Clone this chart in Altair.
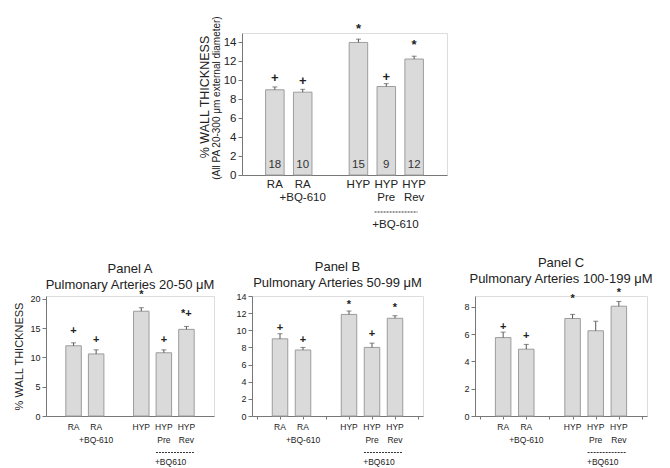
import altair as alt
import pandas as pd

FONT = "Liberation Sans"
TXT = "#222222"
AX = "#777777"
FILL = "#dadada"
EDGE = "#9c9c9c"

# ---------------- data ----------------
groups = ["RA", "RA\n+BQ-610", "HYP", "HYP\nPre", "HYP\nRev"]
slots = [0, 1, 3, 4, 5]

# top panel (all PA 20-300 um)
top_mean = [9.0, 8.75, 14.0, 9.35, 12.25]
top_sem = [0.3, 0.3, 0.35, 0.3, 0.3]
top_n = ["18", "10", "15", "9", "12"]
top_sig = ["+", "+", "*", "+", "*"]
top_sig_y = [10.25, 9.95, 15.45, 10.35, 13.7]

# Panel A (20-50 uM)
a_mean = [12.0, 10.6, 17.9, 10.8, 14.8]
a_sem = [0.5, 0.7, 0.6, 0.5, 0.5]
a_sig = ["+", "+", "*", "+", "*+"]
a_sig_y = [14.5, 13.0, 20.7, 13.0, 17.5]

# Panel B (50-99 uM)
b_mean = [9.0, 7.7, 11.85, 8.0, 11.4]
b_sem = [0.6, 0.3, 0.4, 0.5, 0.3]
b_sig = ["+", "+", "*", "+", "*"]
b_sig_y = [10.3, 8.9, 12.9, 9.6, 12.6]

# Panel C (100-199 uM)
c_mean = [5.75, 4.9, 7.15, 6.25, 8.05]
c_sem = [0.4, 0.35, 0.3, 0.7, 0.35]
c_sig = ["+", "+", "*", "", "*"]
c_sig_y = [6.5, 5.9, 8.6, 7.0, 9.05]

top_bracket = [3.58, 5.12, 4.33]   # start, end, label position (slot units)
bot_bracket = [3.65, 5.33, 4.3]


def panel(mean, sem, sig, sig_y, ymax, yvals, w, h, bw, fs_tick, fs_lab, lab_dy,
          lab_lh, fs_sig, br, br_label, br_dy, lab_dy2, xticks=True, ytitle=None,
          title=None, n=None, toff=-3):
    df = pd.DataFrame({
        "slot": slots, "group": groups, "mean": mean,
        "top": [m + s for m, s in zip(mean, sem)],
        "sig": sig, "sig_y": sig_y,
    })
    if n is not None:
        df["n"] = n
    xs = alt.Scale(domain=[-1, 6], nice=False, zero=False)
    ys = alt.Scale(domain=[0, ymax], nice=False)
    yaxis = alt.Axis(values=yvals, grid=False, domainColor=AX, tickColor=AX, tickSize=4,
                     labelFont=FONT, labelFontSize=fs_tick, labelColor=TXT, labelPadding=2,
                     labelOverlap=False, labelBound=False, labelFlush=False,
                     title=ytitle if ytitle else "", titleFont=FONT, titleFontSize=11,
                     titleFontWeight="normal", titleColor=TXT, titlePadding=5)
    xaxis = alt.Axis(values=list(range(-1, 7)), labels=False, ticks=xticks, tickSize=3,
                     tickColor=AX, domainColor=AX, grid=False, title="")

    def X(f):
        return alt.X(f, type="quantitative", scale=xs, axis=xaxis)

    def Y(f):
        return alt.Y(f, type="quantitative", scale=ys, axis=yaxis)

    base = alt.Chart(df)
    bars = base.mark_bar(size=bw, fill=FILL, stroke=EDGE, strokeWidth=1).encode(
        x=X("slot"), y=Y("mean"))
    err = base.mark_rule(color="#555555", strokeWidth=1).encode(
        x=X("slot"), y=Y("mean"), y2="top:Q")
    cap = base.mark_tick(orient="horizontal", size=5, thickness=1, color="#555555").encode(
        x=X("slot"), y=Y("top"))
    sigs = base.mark_text(font=FONT, fontSize=fs_sig, fontWeight="bold", color=TXT,
                          baseline="middle").encode(x=X("slot"), y=Y("sig_y"), text="sig:N")
    labs = base.mark_text(font=FONT, fontSize=fs_lab, color=TXT, baseline="top",
                          lineBreak="\n", lineHeight=lab_lh).encode(
        x=X("slot"), y=alt.value(h + lab_dy), text="group:N")
    bdf = pd.DataFrame({"b0": [br[0]], "b1": [br[1]], "bl": [br[2]], "t": [br_label]})
    brule = alt.Chart(bdf).mark_rule(color="#333333", strokeWidth=1, strokeDash=[2, 1]).encode(
        x=X("b0"), x2="b1:Q", y=alt.value(h + br_dy))
    btxt = alt.Chart(bdf).mark_text(font=FONT, fontSize=fs_lab, color=TXT, baseline="middle").encode(
        x=X("bl"), y=alt.value(h + lab_dy2), text="t:N")
    layers = [bars, err, cap, sigs, labs, brule, btxt]
    if n is not None:
        layers.append(base.mark_text(font=FONT, fontSize=11.5, color="#333333", baseline="middle").encode(
            x=X("slot"), y=alt.value(h - 10.5), text="n:N"))
    ch = alt.layer(*layers).properties(width=w, height=h)
    if title is not None:
        ch = ch.properties(title=alt.TitleParams(title, font=FONT, fontSize=13, fontWeight="normal",
                                                 color=TXT, lineHeight=16, offset=toff,
                                                 frame="group", anchor="middle"))
    return ch


top = panel(top_mean, top_sem, top_sig, top_sig_y, 15, list(range(0, 15, 2)), 205, 142, 18.5,
            11.5, 11.5, 4.3, 12.5, 13, top_bracket, "+BQ-610", 37, 49.5, xticks=False, n=top_n)

# rotated two-line y title of top panel
tdf = pd.DataFrame({"l1": ["% WALL THICKNESS"], "l2": ["(All PA 20-300 μm external diameter)"]})
t1 = alt.Chart(tdf).mark_text(font=FONT, fontSize=12.5, color=TXT, angle=270, baseline="middle").encode(
    x=alt.value(-37), y=alt.value(64), text="l1:N")
t2 = alt.Chart(tdf).mark_text(font=FONT, fontSize=10, color=TXT, angle=270, baseline="middle").encode(
    x=alt.value(-25), y=alt.value(65), text="l2:N")
top = alt.layer(top, t1, t2)

spacer = alt.Chart(pd.DataFrame({"v": [0]})).mark_point(opacity=0).encode(
    x=alt.value(0), y=alt.value(0)).properties(
    width=152, height=10,
    view=alt.ViewBackground(strokeOpacity=0, fillOpacity=0, strokeWidth=0))

A = panel(a_mean, a_sem, a_sig, a_sig_y, 20.5, [0, 5, 10, 15, 20], 168, 120, 15.5,
          9, 8.5, 6.5, 13, 11, bot_bracket, "+BQ610", 36.5, 45.5, xticks=False,
          ytitle="% WALL THICKNESS", title=["Panel A", "Pulmonary Arteries 20-50 μM"], toff=-3)
B = panel(b_mean, b_sem, b_sig, b_sig_y, 14, list(range(0, 15, 2)), 171, 120, 15.5,
          9, 8.5, 6.5, 13, 11, bot_bracket, "+BQ610", 36.5, 45.5,
          title=["Panel B", "Pulmonary Arteries 50-99 μM"], toff=2)
C = panel(c_mean, c_sem, c_sig, c_sig_y, 8.8, [0, 2, 4, 6, 8], 172, 120, 15.5,
          9, 8.5, 6.5, 13, 11, bot_bracket, "+BQ610", 36.5, 45.5,
          title=["Panel C", "Pulmonary Arteries 100-199 μM"], toff=1)

row1 = alt.hconcat(spacer, top, spacing=0)
row2 = alt.hconcat(alt.hconcat(A, B, spacing=19), C, spacing=39)
chart = alt.vconcat(row1, row2, spacing=25).properties(
    padding={"left": 5, "top": 7, "right": 5, "bottom": 5}
).configure_view(stroke=None).configure_axis(labelOverlap=False).configure(background="white")

chart.save("out.html", embed_options={"renderer": "svg", "actions": False})
